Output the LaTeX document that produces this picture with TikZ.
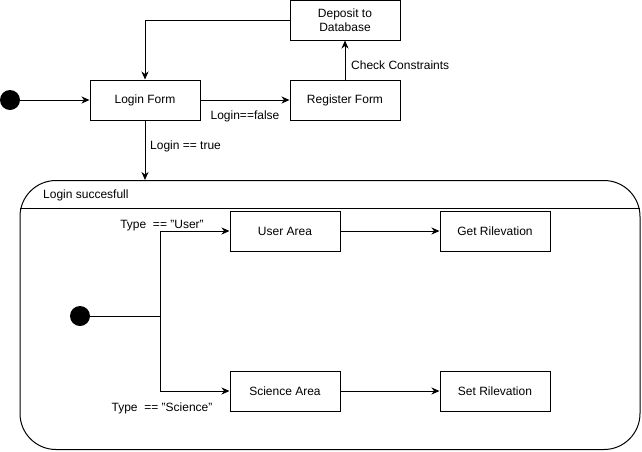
\documentclass[tikz,border=0pt]{standalone}
\usepackage{fontspec}
\setmainfont{Liberation Sans}
\usetikzlibrary{arrows.meta}
\begin{document}
\begin{tikzpicture}[x=1pt,y=-1pt,
  every node/.style={font=\fontsize{12}{14}\selectfont, inner sep=0pt},
  box/.style={draw, line width=1pt, minimum width=110pt, minimum height=40pt, align=center},
  dot/.style={circle, fill=black, minimum size=20pt},
  arr/.style={line width=1pt, -{Stealth[length=8pt,width=7pt,inset=2.5pt]}},
  ln/.style={line width=1pt},
  lbl/.style={fill=white, inner sep=1pt}]
\useasboundingbox (0,0) rectangle (642,451);
% top part
\node[dot] (start) at (10,100) {};
\node[box] (login) at (145,100) {Login Form};
\node[box] (reg) at (345,100) {Register Form};
\node[box] (dep) at (345,20) {Deposit to\\Database};
% container
\node[draw, line width=1pt, rounded corners=36pt, minimum width=620pt, minimum height=269pt] (cont) at (330,315) {};
\coordinate (hl) at (20,208);
\coordinate (hr) at (640,208);
\draw[ln] (hl) -- (hr);
\node[anchor=west] (title) at (43,195) {Login succesfull};
% connectors top
\draw[arr] (start) -- (login.west);
\draw[arr] (login.east) -- (reg.west);
\draw[arr] (reg.north) -- (dep.south);
\draw[arr] (dep.west) -| (login.north);
\draw[arr] (login.south) -- (login.south |- cont.north);
\node (lfalse) at (245,116) {Login==false};
\node[anchor=west] (lcheck) at (351,65) {Check Constraints};
\node[anchor=west] (ltrue) at (150,146) {Login == true};
% inner
\node[dot] (start2) at (80,316) {};
\node[box] (user) at (285,231) {User Area};
\node[box] (get) at (495,231) {Get Rilevation};
\node[box] (sci) at (285,391) {Science Area};
\node[box] (set) at (495,391) {Set Rilevation};
\coordinate (br) at (160,316);
\draw[ln] (start2) -- (br);
\draw[arr] (br) |- (user.west);
\draw[arr] (br) |- (sci.west);
\draw[arr] (user.east) -- (get.west);
\draw[arr] (sci.east) -- (set.west);
\node (tuser) at (162,226) {Type~ == "User"};
\node (tsci) at (162,408) {Type~ == "Science"};
\end{tikzpicture}
\end{document}
